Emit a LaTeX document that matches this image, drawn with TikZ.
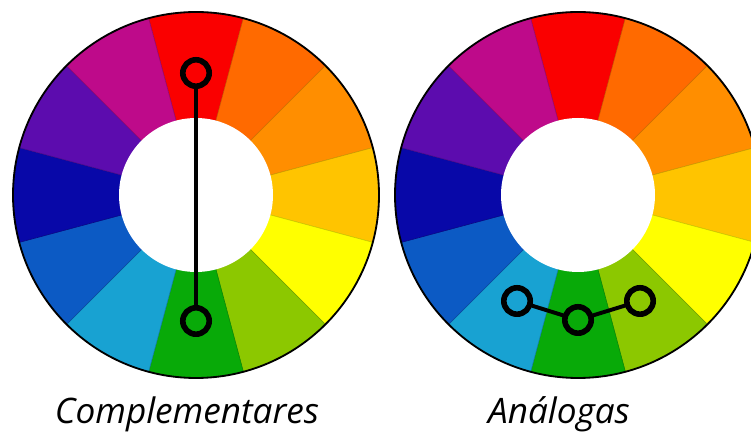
\documentclass[tikz,border=0pt]{standalone}
\usepackage{fontspec}
\newfontfamily\lblfont{Open Sans}
\usepackage{tikz}
\definecolor{wred}{HTML}{FA0000}
\definecolor{wredorange}{HTML}{FF6A00}
\definecolor{worange}{HTML}{FF8E00}
\definecolor{wyelorange}{HTML}{FFC400}
\definecolor{wyellow}{HTML}{FFFF00}
\definecolor{wyelgreen}{HTML}{8CC800}
\definecolor{wgreen}{HTML}{08AA08}
\definecolor{wcyan}{HTML}{18A2D2}
\definecolor{wblue}{HTML}{0C5AC4}
\definecolor{wdarkblue}{HTML}{0808A8}
\definecolor{wviolet}{HTML}{5C0CAE}
\definecolor{wmagenta}{HTML}{BE0A8A}

\begin{document}
\begin{tikzpicture}[x=0.025cm,y=0.025cm,line cap=round,line join=round,
  ring/.style={circle,draw=black,line width=4pt,minimum size=0.66cm,inner sep=0pt},
  link/.style={black,line width=2.8pt},
  lbl/.style={font=\lblfont\itshape\fontsize{25}{28}\selectfont,anchor=base,inner sep=0pt}]
\clip (0,0) rectangle (751,434);
\fill[white] (0,0) rectangle (751,434);
% the two wheels
\foreach \cx in {196,578}{
  \foreach \c [count=\i from 0] in {wred,wredorange,worange,wyelorange,wyellow,wyelgreen,wgreen,wcyan,wblue,wdarkblue,wviolet,wmagenta}{
    \pgfmathsetmacro\a{105-30*\i}
    \fill[\c,draw=\c!80!black,line width=.4pt] (\cx,239) -- ++(\a:183) arc[start angle=\a,delta angle=-30,radius=183] -- cycle;
  }
  \fill[white] (\cx,239) circle[radius=77];
  \draw[black,line width=1.3pt] (\cx,239) circle[radius=183];
}
% complementary pair
\node[ring] (red) at (196,361) {};
\node[ring] (green) at (196,113) {};
\draw[link] (red)--(green);
% analogous triple
\node[ring] (cyan) at (517,133) {};
\node[ring] (mid) at (578,114) {};
\node[ring] (lime) at (640,133) {};
\draw[link] (cyan)--(mid);
\draw[link] (mid)--(lime);
% captions
\node[lbl] (compl) at (187,10) {Complementares};
\node[lbl] (analog) at (559,10) {Análogas};
\end{tikzpicture}
\end{document}
